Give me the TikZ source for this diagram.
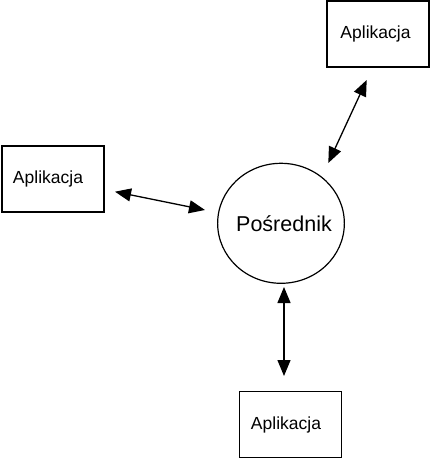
\documentclass[tikz,border=0pt]{standalone}
\usepackage{fontspec}
\setmainfont{Liberation Sans}
\usetikzlibrary{arrows.meta,calc,shapes.geometric}
\begin{document}
\begin{tikzpicture}[x=1pt,y=-1pt,
  appbox/.style={draw=black,line width=1.2pt,minimum width=102pt,minimum height=66pt,inner sep=0pt,font=\fontsize{17.5}{20}\selectfont},
  hub/.style={draw=black,line width=1.2pt,ellipse,minimum width=126pt,minimum height=120pt,inner sep=0pt,font=\fontsize{21.5}{24}\selectfont},
  dbl/.style={line width=1.3pt,{Triangle[length=16pt,width=13pt]}-{Triangle[length=16pt,width=13pt]}}]
\useasboundingbox (0,0) rectangle (431,459);
\node[appbox] (appR) at (378,34) {Aplikacja\hspace*{5pt}};
\node[appbox] (appL) at (53,179) {Aplikacja\hspace*{10pt}};
\node[appbox] (appB) at (290.5,424.5) {Aplikacja\hspace*{9pt}};
\node[hub] (hub) at (281,223.3) {Po\'srednik\hspace*{-6pt}};
\coordinate (rA) at (366.7,80);
\coordinate (rB) at (328.3,163);
\coordinate (lA) at (115,191.7);
\coordinate (lB) at (205,210);
\coordinate (bA) at (284,287);
\coordinate (bB) at (284,376);
\draw[dbl] (rA) -- (rB);
\draw[dbl] (lA) -- (lB);
\draw[dbl] (bA) -- (bB);
\end{tikzpicture}
\end{document}
